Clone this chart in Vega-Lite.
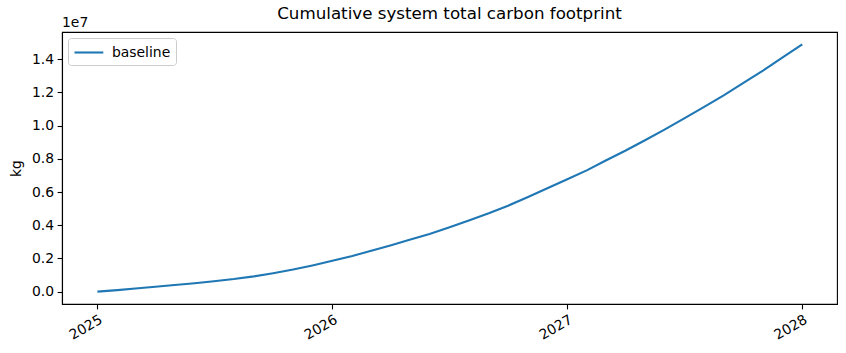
{
  "$schema": "https://vega.github.io/schema/vega-lite/v6.json",
  "autosize": "none",
  "width": 775,
  "height": 272,
  "padding": {"left": 62, "top": 32, "right": 9, "bottom": 49},
  "background": "white",
  "title": {"text": "Cumulative system total carbon footprint", "font": "DejaVu Sans", "fontSize": 16.7, "fontWeight": "normal", "color": "black", "anchor": "middle", "baseline": "alphabetic", "offset": 0, "dy": 20},
  "config": {
    "view": {"stroke": "black", "strokeWidth": 1.1},
    "axis": {"labelFont": "DejaVu Sans", "labelFontSize": 13.9, "labelColor": "black", "titleFont": "DejaVu Sans", "titleFontSize": 13.9, "titleFontWeight": "normal", "titleColor": "black", "domainColor": "black", "domainWidth": 1.1, "tickColor": "black", "tickWidth": 1.1, "tickSize": 4.9, "labelPadding": 3.5, "grid": false, "labelOverlap": false, "labelFlush": false}
  },
  "layer": [
    {
      "data": {"values": [
        {"date": "2025-01-01", "value": 0, "series": "baseline"},
        {"date": "2025-02-01", "value": 90000, "series": "baseline"},
        {"date": "2025-03-01", "value": 190000, "series": "baseline"},
        {"date": "2025-04-01", "value": 290000, "series": "baseline"},
        {"date": "2025-05-01", "value": 400000, "series": "baseline"},
        {"date": "2025-06-01", "value": 510000, "series": "baseline"},
        {"date": "2025-07-01", "value": 630000, "series": "baseline"},
        {"date": "2025-08-01", "value": 760000, "series": "baseline"},
        {"date": "2025-09-01", "value": 920000, "series": "baseline"},
        {"date": "2025-10-01", "value": 1110000, "series": "baseline"},
        {"date": "2025-11-01", "value": 1330000, "series": "baseline"},
        {"date": "2025-12-01", "value": 1580000, "series": "baseline"},
        {"date": "2026-01-01", "value": 1860000, "series": "baseline"},
        {"date": "2026-02-01", "value": 2150000, "series": "baseline"},
        {"date": "2026-03-01", "value": 2450000, "series": "baseline"},
        {"date": "2026-04-01", "value": 2780000, "series": "baseline"},
        {"date": "2026-05-01", "value": 3120000, "series": "baseline"},
        {"date": "2026-06-01", "value": 3480000, "series": "baseline"},
        {"date": "2026-07-01", "value": 3860000, "series": "baseline"},
        {"date": "2026-08-01", "value": 4280000, "series": "baseline"},
        {"date": "2026-09-01", "value": 4720000, "series": "baseline"},
        {"date": "2026-10-01", "value": 5180000, "series": "baseline"},
        {"date": "2026-11-01", "value": 5700000, "series": "baseline"},
        {"date": "2026-12-01", "value": 6230000, "series": "baseline"},
        {"date": "2027-01-01", "value": 6770000, "series": "baseline"},
        {"date": "2027-02-01", "value": 7320000, "series": "baseline"},
        {"date": "2027-03-01", "value": 7890000, "series": "baseline"},
        {"date": "2027-04-01", "value": 8490000, "series": "baseline"},
        {"date": "2027-05-01", "value": 9110000, "series": "baseline"},
        {"date": "2027-06-01", "value": 9760000, "series": "baseline"},
        {"date": "2027-07-01", "value": 10430000, "series": "baseline"},
        {"date": "2027-08-01", "value": 11120000, "series": "baseline"},
        {"date": "2027-09-01", "value": 11830000, "series": "baseline"},
        {"date": "2027-10-01", "value": 12560000, "series": "baseline"},
        {"date": "2027-11-01", "value": 13320000, "series": "baseline"},
        {"date": "2027-12-01", "value": 14100000, "series": "baseline"},
        {"date": "2028-01-01", "value": 14900000, "series": "baseline"}
      ]},
      "mark": {"type": "line", "strokeWidth": 2.1, "clip": true},
      "encoding": {
        "x": {"field": "date", "type": "temporal",
          "scale": {"type": "utc", "domain": [{"year": 2024, "month": 11, "date": 7, "utc": true}, {"year": 2028, "month": 2, "date": 24, "utc": true}], "nice": false},
          "axis": {"title": null, "format": "%Y", "formatType": "utc", "labelAngle": -30, "labelAlign": "right", "labelBaseline": "top", "labelOverlap": false, "labelDx": -5,
            "values": [{"year": 2025, "month": 1, "date": 1, "utc": true}, {"year": 2026, "month": 1, "date": 1, "utc": true}, {"year": 2027, "month": 1, "date": 1, "utc": true}, {"year": 2028, "month": 1, "date": 1, "utc": true}]}},
        "y": {"field": "value", "type": "quantitative",
          "scale": {"domain": [-745000, 15645000], "nice": false, "zero": false},
          "axis": {"title": "kg", "titlePadding": 8, "labelOverlap": false, "tickCount": 8, "values": [0, 2000000, 4000000, 6000000, 8000000, 10000000, 12000000, 14000000], "labelExpr": "format(datum.value / 1e7, '.1f')"}},
        "color": {"field": "series", "type": "nominal", "scale": {"range": ["#1f77b4"]},
          "legend": {"title": null, "orient": "top-left", "offset": 6, "symbolType": "M-1,0H2.6", "symbolSize": 256, "symbolStrokeWidth": 2.1, "labelFont": "DejaVu Sans", "labelFontSize": 13.9, "labelColor": "black", "strokeColor": "#cccccc", "fillColor": "white", "cornerRadius": 3, "padding": 5, "labelOffset": 20}}
      }
    },
    {
      "data": {"values": [{"label": "1e7"}]},
      "mark": {"type": "text", "align": "left", "baseline": "bottom", "dy": -2, "font": "DejaVu Sans", "fontSize": 13.9, "color": "black"},
      "encoding": {
        "x": {"datum": {"year": 2024, "month": 11, "date": 7, "utc": true}, "type": "temporal"},
        "y": {"datum": 15645000, "type": "quantitative"},
        "text": {"field": "label"}
      }
    }
  ]
}
